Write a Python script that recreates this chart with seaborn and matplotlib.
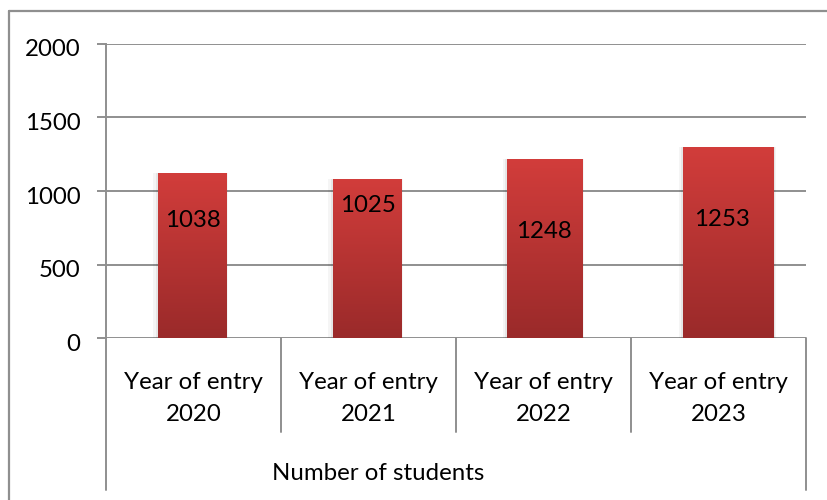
import numpy as np
import pandas as pd
import matplotlib
matplotlib.use("Agg")
import matplotlib.pyplot as plt
import matplotlib.transforms as mtransforms
from matplotlib.lines import Line2D
import seaborn as sns

# ---- data ----
categories = ["Year of entry\n2020", "Year of entry\n2021", "Year of entry\n2022", "Year of entry\n2023"]
bar_heights = [1122, 1081, 1217, 1296]
value_labels = ["1038", "1025", "1248", "1253"]
y_ticks = [0, 500, 1000, 1500, 2000]
group_label = "Number of students"

# ---- style ----
bar_widths = [0.39, 0.39, 0.43, 0.52]
bar_shift = [-0.01, -0.01, 0.006, 0.057]
label_y = [803, 905, 722, 810]
top_col = np.array([0xD2, 0x3D, 0x3B]) / 255
bot_col = np.array([0x9A, 0x2A, 0x2A]) / 255
gcol = "#8f8f8f"
FONT = "Lato"
FS = 17.3

sns.set_theme(style="white")
plt.rcParams["font.family"] = [FONT, "DejaVu Sans"]

W, H = 827, 500
fig = plt.figure(figsize=(W / 100, H / 100), dpi=100)
ax = fig.add_axes([106 / W, 1 - 338.4 / H, 700 / W, (338.4 - 43.6) / H])

df = pd.DataFrame({"cat": categories, "val": bar_heights})
sns.barplot(data=df, x="cat", y="val", ax=ax, color="#c0392b", saturation=1, width=0.8, zorder=3)

ax.set_xlim(-0.5, 3.5)
ax.set_ylim(0, 2000)

# reshape bars and apply gradient
grad = np.linspace(0, 1, 256)[:, None]
img = top_col[None, None, :] * (1 - grad[..., None]) + bot_col[None, None, :] * grad[..., None]
for i, p in enumerate(ax.patches):
    w = bar_widths[i]
    cx = i + bar_shift[i]
    p.set_x(cx - w / 2)
    p.set_width(w)
    p.set_facecolor("none")
    p.set_edgecolor("none")
    # soft shadow
    for k, a in [(0.025, 0.04), (0.012, 0.06)]:
        sh = plt.Rectangle((cx - w / 2 - k, -10), w + k * 1.4, p.get_height() + 10,
                           facecolor="black", alpha=a, edgecolor="none", zorder=2)
        ax.add_patch(sh)
    im = ax.imshow(img, extent=(cx - w / 2, cx + w / 2, 0, p.get_height()),
                   aspect="auto", zorder=3, interpolation="bilinear")
    im.set_clip_path(p)
    ax.text(i + bar_shift[i] * 0.3, label_y[i], value_labels[i], ha="center", va="center",
            fontsize=FS, color="black", zorder=5)

ax.set_aspect("auto")
ax.set_xlim(-0.5, 3.5)
ax.set_ylim(0, 2000)

# axes styling
for s in ["top", "right", "bottom"]:
    ax.spines[s].set_visible(False)
ax.spines["left"].set_color(gcol)
ax.spines["left"].set_linewidth(1.4)
ax.set_yticks(y_ticks)
ax.set_yticklabels([str(t) for t in y_ticks])
ax.yaxis.grid(True, color=gcol, linewidth=1.4, zorder=1)
ax.set_axisbelow(True)
ax.tick_params(axis="y", direction="out", length=6.5, width=1.4, color=gcol,
               pad=12, labelsize=FS, labelcolor="black", left=True)
off = mtransforms.ScaledTranslation(0, -4 / 100, fig.dpi_scale_trans)
for lab in ax.get_yticklabels():
    lab.set_transform(lab.get_transform() + off)

ax.set_xticks(range(len(categories)))
ax.set_xticklabels(categories, linespacing=1.68)
ax.tick_params(axis="x", length=0, pad=24, labelsize=FS, labelcolor="black")
ax.set_xlabel("")
ax.set_ylabel("")

# category separators below axis
tr = mtransforms.blended_transform_factory(ax.transData, fig.transFigure)
for xb in [-0.5, 0.5, 1.5, 2.5, 3.5]:
    yend = 490 if xb in (-0.5, 3.5) else 432
    ax.add_line(Line2D([xb, xb], [1 - 338.4 / H, 1 - yend / H], transform=tr, color=gcol,
                       linewidth=1.4, clip_on=False))

fig.text(378 / W, 1 - 474 / H, group_label, ha="center", va="center", fontsize=FS, color="black")

# outer chart frame
fig.add_artist(Line2D([9 / W, 1.0], [1 - 11 / H, 1 - 11 / H], transform=fig.transFigure,
                      color=gcol, linewidth=1.6))
fig.add_artist(Line2D([9 / W, 9 / W], [1 - 11 / H, 0], transform=fig.transFigure,
                      color=gcol, linewidth=1.6))

fig.savefig("out.png", dpi=100)
